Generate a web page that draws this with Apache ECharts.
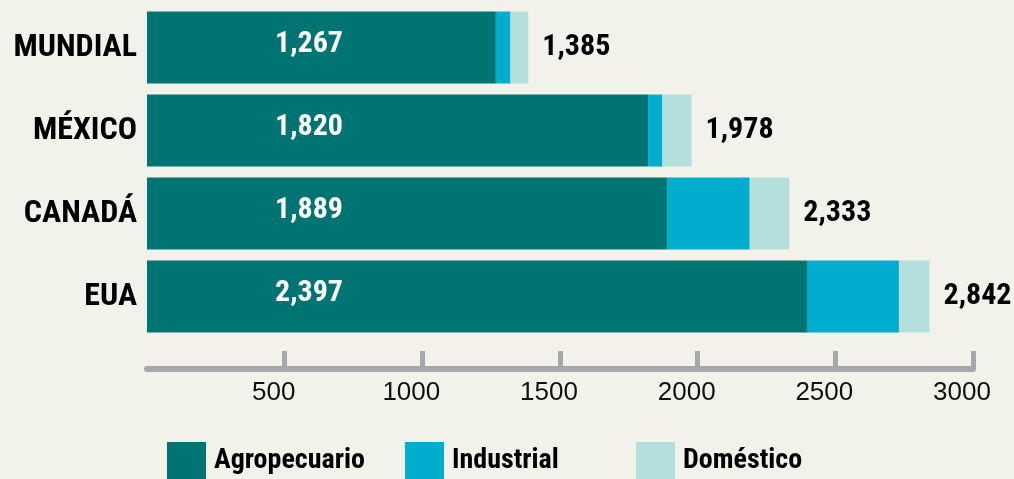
<!DOCTYPE html>
<html>
<head>
<meta charset="utf-8">
<script src="https://cdn.jsdelivr.net/npm/echarts@6/dist/echarts.min.js"></script>
<style>
  html, body { margin: 0; padding: 0; background: #f3f2ea; }
  #main { width: 1014px; height: 479px; }
</style>
</head>
<body>
<div id="main"></div>
<script>
// consumo por sector, por país
var categories = ['MUNDIAL', 'MÉXICO', 'CANADÁ', 'EUA'];
var agropecuario = [1267, 1820, 1889, 2397];
var industrial = [53, 52, 300, 334];
var domestico = [65, 106, 144, 111];
var totales = [1385, 1978, 2333, 2842];
var xTicks = [0, 500, 1000, 1500, 2000, 2500, 3000];

var narrow = "'Roboto Condensed', 'Liberation Sans Narrow', 'DejaVu Sans Condensed', sans-serif";
var fmt = function (v) { return v.toLocaleString('en-US'); };

function legendAt(name, left) {
  return {
    data: [{ name: name, icon: 'rect' }],
    left: left,
    top: 442,
    padding: 0,
    itemWidth: 39,
    itemHeight: 38,
    selectedMode: false,
    textStyle: { fontFamily: narrow, fontWeight: 'bold', fontSize: 28, color: '#000', padding: [6, 0, 0, 3] }
  };
}

var option = {
  backgroundColor: '#f3f2ea',
  animation: false,
  legend: [
    legendAt('Agropecuario', 167),
    legendAt('Industrial', 405),
    legendAt('Doméstico', 636)
  ],
  grid: { left: 147, right: 41, top: 6, bottom: 141, containLabel: false, outerBoundsMode: 'none' },
  xAxis: {
    type: 'value',
    min: xTicks[0],
    max: xTicks[xTicks.length - 1],
    interval: 500,
    offset: 31,
    axisLine: { show: true, lineStyle: { color: '#a7a8ab', width: 6 } },
    axisTick: { show: true, inside: true, length: 18, lineStyle: { color: '#a7a8ab', width: 5 } },
    splitLine: { show: false },
    axisLabel: {
      showMinLabel: false,
      margin: 11,
      padding: [0, 22, 0, 0],
      fontFamily: "'Liberation Sans', Arial, sans-serif",
      fontSize: 26,
      color: '#111',
      formatter: function (v) { return String(v); }
    }
  },
  yAxis: {
    type: 'category',
    data: categories,
    inverse: true,
    axisLine: { show: false },
    axisTick: { show: false },
    axisLabel: {
      margin: 10,
      fontFamily: narrow,
      fontWeight: 'bold',
      fontSize: 32,
      color: '#000'
    }
  },
  series: [
    {
      name: 'Agropecuario',
      type: 'bar',
      stack: 'total',
      barWidth: 72,
      itemStyle: { color: '#007473' },
      label: {
        show: true,
        position: [162, '46%'],
        align: 'center',
        verticalAlign: 'middle',
        fontFamily: narrow,
        fontWeight: 'bold',
        fontSize: 30,
        color: '#fff',
        formatter: function (p) { return fmt(p.value); }
      },
      data: agropecuario
    },
    {
      name: 'Industrial',
      type: 'bar',
      stack: 'total',
      itemStyle: { color: '#00adcf' },
      data: industrial
    },
    {
      name: 'Doméstico',
      type: 'bar',
      stack: 'total',
      itemStyle: { color: '#b3dfdc' },
      label: {
        show: true,
        position: 'right',
        distance: 14,
        fontFamily: narrow,
        fontWeight: 'bold',
        fontSize: 30,
        color: '#000',
        formatter: function (p) { return fmt(totales[p.dataIndex]); }
      },
      data: domestico
    }
  ]
};

var chart = echarts.init(document.getElementById('main'));
chart.setOption(option);
</script>
</body>
</html>
